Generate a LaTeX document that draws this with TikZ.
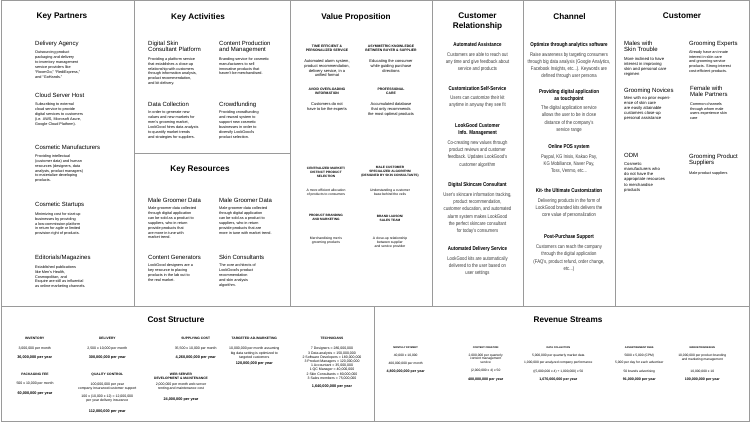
\documentclass[tikz,border=0pt]{standalone}
\usepackage{fontspec}
\setmainfont{Liberation Sans}
\newfontfamily\hv{Liberation Sans}
\newfontfamily\cnd[FakeStretch=0.8]{Liberation Sans}
\definecolor{rulegray}{HTML}{9A9A9A}
\newcommand\fsz[2]{\fontsize{#1}{#2}\selectfont}
\tikzset{
 rl/.style={draw=rulegray,line width=0.9pt},
 ttl/.style={font={\hv\bfseries\fsz{8.2}{9.4}},inner sep=0,align=center,anchor=north},
 kh/.style={font={\hv\fsz{6}{6.7}},inner sep=0,anchor=north west,align=left},
 kd/.style={font={\hv\fsz{3.8}{4.9}},inner sep=0,anchor=north west,align=left},
 vh/.style={font={\hv\bfseries\fsz{3.4}{4.3}},inner sep=0,anchor=north,align=center},
 vhs/.style={font={\hv\bfseries\fsz{3.2}{4.0}},inner sep=0,anchor=north,align=center},
 vd/.style={font={\hv\fsz{4}{4.8}},inner sep=0,anchor=north,align=center},
 vds/.style={font={\hv\fsz{3.4}{4.1}},inner sep=0,anchor=north,align=center},
 ch/.style={font={\cnd\bfseries\fsz{5.6}{7}},inner sep=0,anchor=north,align=center},
 cd/.style={font={\cnd\fsz{5.3}{7.25}},text=black!78,inner sep=0,anchor=north,align=center},
 cua/.style={font={\hv\fsz{4.2}{5.1}},inner sep=0,anchor=north west,align=left},
 cub/.style={font={\hv\fsz{3.8}{4.75}},inner sep=0,anchor=north west,align=left},
 bh/.style={font={\hv\bfseries\fsz{3.3}{3.7}},inner sep=0,anchor=center,align=center},
 bhm/.style={font={\hv\bfseries\fsz{3.3}{3.7}},inner sep=0,anchor=north,align=center},
 bt/.style={font={\hv\fsz{3.5}{4.2}},inner sep=0,anchor=center,align=center},
 btm/.style={font={\hv\fsz{3.5}{4.2}},inner sep=0,anchor=north,align=center},
 bb/.style={font={\hv\bfseries\fsz{3.8}{4.4}},inner sep=0,anchor=center,align=center},
 rh/.style={font={\hv\bfseries\fsz{2.5}{3}},inner sep=0,anchor=center,align=center},
 rt/.style={font={\hv\fsz{3.3}{3.5}},inner sep=0,anchor=center,align=center},
 rtm/.style={font={\hv\fsz{3.3}{3.5}},inner sep=0,anchor=north,align=center},
 rb/.style={font={\hv\bfseries\fsz{3.6}{4.2}},inner sep=0,anchor=center,align=center},
}
\begin{document}
\begin{tikzpicture}[x=1pt,y=-1pt]
\useasboundingbox (0,0) rectangle (750,422);
\fill[white] (0,0) rectangle (750,422);
% grid
\draw[rl] (1,0.5) rectangle (749,421);
\draw[rl] (134.5,0.5) -- (134.5,306);
\draw[rl] (134.5,153.3) -- (290,153.3);
\draw[rl] (290,0.5) -- (290,306);
\draw[rl] (432.3,0.5) -- (432.3,306);
\draw[rl] (523.3,0.5) -- (523.3,306);
\draw[rl] (615,0.5) -- (615,306);
\draw[rl] (1,306) -- (749,306);
\draw[rl] (374.3,306) -- (374.3,421);
% titles
\node[ttl] (tKP) at (62,13) {Key Partners};
\node[ttl] (tKA) at (198,13) {Key Activities};
\node[ttl] (tKR) at (200,166) {Key Resources};
\node[ttl] (tVP) at (356,13) {Value Proposition};
\node[ttl] (tCR) at (477.5,12.7) {Customer\\Relationship};
\node[ttl] (tCH) at (569.5,13) {Channel};
\node[ttl] (tCU) at (682,13) {Customer};
\node[ttl] (tCS) at (176,317) {Cost Structure};
\node[ttl] (tRS) at (568,317) {Revenue Streams};
% Key Partners
\node[kh] (kp1h) at (35,40.5) {Delivery Agency};
\node[kd] (kp1d) at (35,50.9) {Outsourcing product\\packaging and delivery\\to inventory management\\service providers like\\“RoomGo,” “RediExpress,”\\and “GoHands.”};
\node[kh] (kp2h) at (35,92.5) {Cloud Server Host};
\node[kd] (kp2d) at (35,102.9) {Subscribing to external\\cloud service to provide\\digital services to customers\\(i.e. AWS, Microsoft Azure,\\Google Cloud Platform).};
\node[kh] (kp3h) at (35,144.8) {Cosmetic Manufacturers};
\node[kd] (kp3d) at (35,154.4) {Providing intellectual\\(customer data) and human\\resources (designers, data\\analysts, product managers)\\to materialize developing\\products.};
\node[kh] (kp4h) at (35,202.1) {Cosmetic Startups};
\node[kd] (kp4d) at (35,212.3) {Minimizing cost for start-up\\businesses by providing\\a low-commission platform\\in return for agile or limited\\provision right of products.};
\node[kh] (kp5h) at (35,255.1) {Editorials/Magazines};
\node[kd] (kp5d) at (35,265.3) {Established publications\\like Men's Health,\\Cosmopolitan, and\\Esquire are still as influential\\as online marketing channels.};
% Key Activities
\node[kh] (ka1h) at (148,40.5) {Digital Skin\\Consultant Platform};
\node[kd] (ka1d) at (148,57.3) {Providing a platform service\\that establishes a close-up\\relationship with customers\\through information analysis,\\product recommendation,\\and kit delivery.};
\node[kh] (ka2h) at (219,40.5) {Content Production\\and Management};
\node[kd] (ka2d) at (219,57.3) {Branding service for cosmetic\\manufacturers to sell\\innovative products that\\haven't be merchandised.};
\node[kh] (ka3h) at (148,101.5) {Data Collection};
\node[kd] (ka3d) at (148,110.6) {In order to generate new\\values and new markets for\\men's grooming market,\\LookGood hires data analysts\\to quantify market trends\\and strategies for suppliers.};
\node[kh] (ka4h) at (219,101.5) {Crowdfunding};
\node[kd] (ka4d) at (219,110.6) {Providing crowdfunding\\and reward system to\\support new cosmetic\\businesses in order to\\diversify LookGood's\\product selection.};
% Key Resources
\node[kh] (kr1h) at (148,197.8) {Male Groomer Data};
\node[kd] (kr1d) at (148,206.6) {Male groomer data collected\\through digital application\\can be sold as a product to\\suppliers, who in return\\provide products that\\are more in tune with\\market trend.};
\node[kh] (kr2h) at (219,197.8) {Male Groomer Data};
\node[kd] (kr2d) at (219,206.6) {Male groomer data collected\\through digital application\\can be sold as a product to\\suppliers, who in return\\provide products that are\\more in tune with market trend.};
\node[kh] (kr3h) at (148,255.1) {Content Generators};
\node[kd] (kr3d) at (148,263.9) {LookGood designers are a\\key resource to placing\\products in the lab out to\\the real market.};
\node[kh] (kr4h) at (219,255.1) {Skin Consultants};
\node[kd] (kr4d) at (219,263.9) {The core architects of\\LookGood's product\\recommendation\\and skin analysis\\algorithm.};
% Value Proposition
\node[vh] (vp1h) at (327,45.1) {TIME EFFICIENT \&\\PERSONALIZED SERVICE};
\node[vd] (vp1d) at (327,59.5) {Automated alarm system,\\product recommendation,\\delivery service, in a\\unified format};
\node[vh] (vp2h) at (391,45.1) {ASYMMETRIC KNOWLEDGE\\BETWEEN BUYER \& SUPPLIER};
\node[vd] (vp2d) at (391,59.5) {Educating the consumer\\while guiding purchase\\directions};
\node[vh] (vp3h) at (327,88.1) {AVOID OVERLOADING\\INFORMATION};
\node[vd] (vp3d) at (327,102.8) {Customers do not\\have to be the experts};
\node[vh] (vp4h) at (391,88.1) {PROFESSIONAL\\CARE};
\node[vd] (vp4d) at (391,102.8) {Accumulated database\\that only recommends\\the most optimal products};
\node[vhs] (vp5h) at (326,166.5) {CENTRALIZED MARKET/\\DISTINCT PRODUCT\\SELECTION};
\node[vds] (vp5d) at (326,188.7) {A more efficient allocation\\of products to consumers};
\node[vhs] (vp6h) at (390,166.5) {MALE CUSTOMER\\SPECIALIZED ALGORITHM\\(DESIGNED BY SKIN CONSULTANTS)};
\node[vds] (vp6d) at (390,188.7) {Understanding a customer\\base behind the veils};
\node[vhs] (vp7h) at (326,214.5) {PRODUCT BRANDING\\AND MARKETING};
\node[vds] (vp7d) at (326,236.4) {Merchandising men's\\grooming products};
\node[vhs] (vp8h) at (390,214.5) {BRAND LIAISON/\\SALES TEAM};
\node[vds] (vp8d) at (390,236.4) {A close-up relationship\\between supplier\\and service provider};
% Customer Relationship
\node[ch] (cr1h) at (477.5,42.6) {Automated Assistance};
\node[cd] (cr1d) at (477.5,52.3) {Customers are able to reach out\\any time and give feedback about\\service and products};
\node[ch] (cr2h) at (477.5,85.9) {Customization Self-Service};
\node[cd] (cr2d) at (477.5,95.7) {Users can customize their kit\\anytime in anyway they see fit};
\node[ch] (cr3h) at (477.5,123.2) {LookGood Customer\\Info. Management};
\node[cd] (cr3d) at (477.5,140.3) {Co-creating new values through\\product reviews and customer\\feedback. Updates LookGood's\\customer algorithm};
\node[ch] (cr4h) at (477.5,182.6) {Digital Skincare Consultant};
\node[cd] (cr4d) at (477.5,192.3) {User's skincare information tracking,\\product recommendation,\\customer education, and automated\\alarm system makes LookGood\\the perfect skincare consultant\\for today's consumers};
\node[ch] (cr5h) at (477.5,246.2) {Automated Delivery Service};
\node[cd] (cr5d) at (477.5,256) {LookGood kits are automatically\\delivered to the user based on\\user settings};
% Channel
\node[ch] (ch1h) at (569,42.6) {Optimize through analytics software};
\node[cd] (ch1d) at (569,52) {Raise awareness by targeting consumers\\through big data analysis (Google Analytics,\\Facebook Insights, etc...). Keywords are\\defined through user persona};
\node[ch] (ch2h) at (569,88.9) {Providing digital application\\as touchpoint};
\node[cd] (ch2d) at (569,105.7) {The digital application service\\allows the user to be in close\\distance of the company's\\service range};
\node[ch] (ch3h) at (569,144.6) {Online POS system};
\node[cd] (ch3d) at (569,154) {Paypal, KG Inisis, Kakao Pay,\\KG Mobiliance, Naver Pay,\\Toss, Venmo, etc...};
\node[ch] (ch4h) at (569,188.2) {Kit- the Ultimate Customization};
\node[cd] (ch4d) at (569,198) {Delivering products in the form of\\LookGood branded kits delivers the\\core value of personalization};
\node[ch] (ch5h) at (569,234.6) {Post-Purchase Support};
\node[cd] (ch5d) at (569,244.7) {Customers can reach the company\\through the digital application\\(FAQ's, product refund, order change,\\etc...)};
% Customer
\node[kh] (cu1h) at (624,40.5) {Males with\\Skin Trouble};
\node[cua] (cu1d) at (624,57.1) {More inclined to have\\interest in improving\\skin and personal care\\regimen};
\node[kh] (cu2h) at (689,40.5) {Grooming Experts};
\node[cub] (cu2d) at (689,50.3) {Already have an innate\\interest in skin care\\and grooming service\\products. Strong interest\\cost-efficient products.};
\node[kh] (cu3h) at (624,87.5) {Grooming Novices};
\node[cua] (cu3d) at (624,96.1) {Men with no prior experi-\\ence of skin care\\are easily attainable\\customers close-up\\personal assistance};
\node[kh] (cu4h) at (690,85.5) {Female with\\Male Partners};
\node[cub] (cu4d) at (690,102.3) {Common channels\\through whom male\\users experience skin\\care};
\node[kh] (cu5h) at (624,153.5) {ODM};
\node[cua] (cu5d) at (624,162.4) {Cosmetic\\manufacturers who\\do not have the\\appropriate resources\\to merchandise\\products};
\node[kh] (cu6h) at (689,153.5) {Grooming Product\\Suppliers};
\node[cub] (cu6d) at (689,171.9) {Male product suppliers};
% Cost Structure
\node[bh] (cInvH) at (34.7,338.3) {INVENTORY};
\node[bt] (cInv1) at (34.7,348.3) {3,000,000 per month};
\node[bb] (cInv2) at (34.7,357.7) {36,000,000 per year};
\node[bh] (cDelH) at (107.3,338.3) {DELIVERY};
\node[bt] (cDel1) at (107.3,348.3) {2,500 x 10,000 per month};
\node[bb] (cDel2) at (107.3,357.7) {300,000,000 per year};
\node[bh] (cSupH) at (195.7,338.3) {SUPPLYING COST};
\node[bt] (cSup1) at (195.7,348.3) {35,500 x 10,000 per month};
\node[bb] (cSup2) at (195.7,357.7) {4,260,000,000 per year};
\node[bh] (cAdH) at (254.3,338.3) {TARGETED AD./MARKETING};
\node[btm] (cAd1) at (254.3,347.1) {10,000,000 per month assuming\\big data setting is optimized to\\targeted customers};
\node[bb] (cAd2) at (254.3,364) {120,000,000 per year};
\node[bh] (cTecH) at (332,338.3) {TECHNICIANS};
\node[btm] (cTec1) at (332,347.1) {7 Designers = 280,000,000\\3 Data analysts = 150,000,000\\2 Software Developers = 180,000,000\\3 Product Managers = 120,000,000\\1 Accountant = 35,000,000\\1 QC Manager = 40,000,000\\2 Skin Consultants = 80,000,000\\3 Sales members = 75,000,000};
\node[bb] (cTec2) at (332,387) {1,640,000,000 per year};
\node[bh] (cPkH) at (35,374.2) {PACKAGING FEE};
\node[bt] (cPk1) at (35,384) {500 x 10,000 per month};
\node[bb] (cPk2) at (35,393.7) {60,000,000 per year};
\node[bh] (cQcH) at (107.3,374.2) {QUALITY CONTROL};
\node[btm] (cQc1) at (107.3,382.5) {100,000,000 per year\\company insurance/customer support};
\node[btm] (cQc2) at (107.3,394.8) {100 x (10,000 x 12) = 12,000,000\\per year delivery insurance};
\node[bb] (cQc3) at (107.3,411.7) {112,000,000 per year};
\node[bhm] (cWebH) at (181,373.1) {WEB SERVER\\DEVELOPMENT \& MAINTENANCE};
\node[btm] (cWeb1) at (181,382.8) {2,000,000 per month web server\\renting and maintenance cost};
\node[bb] (cWeb2) at (181,399.3) {24,000,000 per year};
% Revenue Streams
\node[rh] (rMpH) at (405.7,347.3) {MONTHLY PAYMENT};
\node[rt] (rMp1) at (405.7,355.3) {40,000 x 10,000};
\node[rt] (rMp2) at (405.7,363.7) {400,000,000 per month};
\node[rb] (rMp3) at (405.7,372) {4,800,000,000 per year};
\node[rh] (rCcH) at (485.7,347.3) {CONTENT CREATION};
\node[rtm] (rCc1) at (485.7,353.8) {2,000,000 per quarterly\\content management\\service};
\node[rt] (rCc2) at (485.7,371) {(2,000,000 x 4) x 50};
\node[rb] (rCc3) at (485.7,380) {400,000,000 per year};
\node[rh] (rDcH) at (558.3,347.3) {DATA COLLECTION};
\node[rt] (rDc1) at (558.3,355.3) {5,000,000 per quarterly market data};
\node[rt] (rDc2) at (558.3,362.7) {1,000,000 per analyzed company performance};
\node[rt] (rDc3) at (558.3,371.3) {((5,000,000 x 4) + 1,000,000) x 50};
\node[rb] (rDc4) at (558.3,380) {1,070,000,000 per year};
\node[rh] (rAdH) at (639.3,347.3) {ADVERTISEMENT FEES};
\node[rt] (rAd1) at (639.3,355.3) {5000 x 5,000 (CPM)};
\node[rt] (rAd2) at (639.3,362.7) {5,000 per day for each advertiser};
\node[rt] (rAd3) at (639.3,371.3) {50 brands advertising};
\node[rb] (rAd4) at (639.3,380) {91,000,000 per year};
\node[rh] (rMdH) at (702.3,347.3) {MARKETING/DESIGN};
\node[rtm] (rMd1) at (702.3,354.1) {10,000,000 per product branding\\and marketing management};
\node[rt] (rMd2) at (702.3,371.3) {10,000,000 x 10};
\node[rb] (rMd3) at (702.3,380) {100,000,000 per year};
\end{tikzpicture}
\end{document}
